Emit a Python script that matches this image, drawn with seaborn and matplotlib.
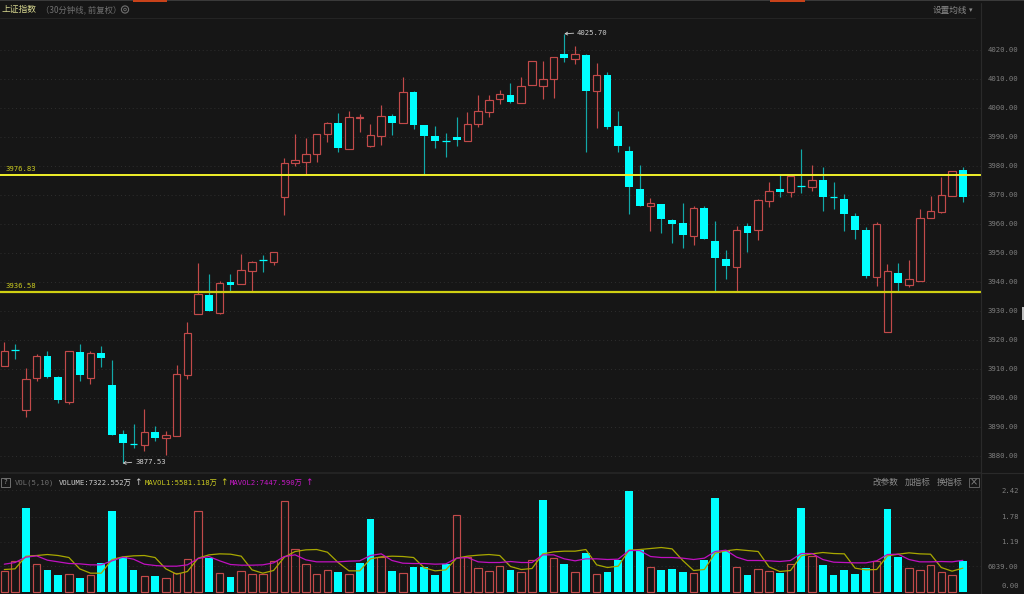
import numpy as np
import pandas as pd
import matplotlib
matplotlib.use("Agg")
import matplotlib.pyplot as plt
from matplotlib.patches import Rectangle
import seaborn as sns

# ---- candle data (prices) ----
body_top = [3916.2,0,3906.4,3914.4,3914.6,3907.2,3916.1,3915.9,3915.5,3915.5,3904.4,3887.5,0,3888.2,3888.3,3887.1,3908.2,3922.3,3935.7,3935.4,3939.6,3940.0,3944.0,3947.0,0,3950.3,
 3980.9,3981.9,3984.0,3991.2,3994.7,3994.7,3997.0,3996.9,3990.6,3997.1,3997.1,4005.4,4005.5,3994.2,3990.3,0,3990.1,3994.5,3998.8,4002.9,4004.7,4004.4,4007.7,4016.2,4010.1,4017.5,4018.5,4018.6,4018.3,4011.3,4011.4,
 3993.8,3985.0,3971.9,3967.4,3966.8,3961.4,3960.2,3965.4,3965.5,3954.1,3947.9,3958.1,3959.2,3968.2,3971.3,3971.9,3976.4,0,3975.3,
 3975.3,0,3968.6,3962.6,3957.9,3960.1,3943.7,3943.1,3940.9,3962.1,3964.4,3969.9,3978.2,3978.7]
body_bot = [3911.1,0,3896.0,3907.0,3907.3,3899.2,3898.5,3908.0,3907.0,3913.9,3887.1,3884.4,0,3883.9,3886.3,3886.1,3886.9,3907.8,3929.1,3929.9,3929.4,3939.0,3939.4,3943.9,0,3947.0,
 3969.2,3980.9,3981.5,3984.3,3991.1,3986.1,3985.9,3996.5,3986.8,3990.5,3994.9,3994.9,3994.2,3990.2,3988.5,0,3988.9,3988.5,3994.4,3998.7,4003.2,4002.2,4001.7,4008.0,4007.5,4010.0,4017.2,4017.0,4006.0,4005.8,3993.6,
 3987.0,3972.6,3966.3,3966.1,3961.7,3960.0,3956.1,3955.9,3954.8,3948.3,3945.6,3945.2,3956.8,3957.9,3967.8,3970.9,3971.2,0,3972.9,
 3969.3,0,3963.4,3957.8,3941.9,3941.7,3922.6,3939.8,3939.1,3940.4,3962.2,3964.2,3969.5,3969.2]
doji = {1:3916.5, 12:3884.0, 24:3947.5, 41:3988.5, 74:3973.1, 77:3969.3}
high = [3919.4,3918.6,3910.3,3915.2,3916.3,3907.6,3916.1,3918.7,3916.2,3917.8,3913.1,3888.9,3891.0,3896.1,3890.5,3888.5,3911.3,3926.3,3946.4,3942.9,3940.5,3942.8,3949.6,3947.1,3949.3,3950.5,
 3982.6,3990.9,3989.6,3991.2,3995.3,3998.3,3999.0,3997.9,3994.6,4001.0,3997.8,4010.7,4005.8,3994.2,3993.8,3991.4,3996.9,3998.5,4004.4,4004.5,4006.2,4008.5,4010.8,4016.2,4016.2,4017.7,4025.6,4021.4,4018.5,4015.4,4012.4,
 3999.0,3986.9,3980.2,3969.0,3967.0,3961.7,3967.2,3966.3,3966.3,3960.9,3951.2,3959.4,3960.3,3968.7,3974.6,3977.2,3976.6,3985.9,3980.3,
 3979.7,3974.6,3970.2,3963.7,3958.8,3960.6,3946.1,3946.5,3947.6,3965.2,3969.8,3976.1,3978.4,3979.7]
low = [3911.1,3913.4,3893.3,3906.0,3906.8,3898.2,3898.0,3905.9,3905.0,3910.7,3887.1,3877.53,3882.6,3881.8,3885.3,3880.5,3886.9,3906.6,3929.1,3929.9,3929.1,3936.7,3939.4,3937.0,3943.6,3945.9,
 3963.1,3980.0,3976.9,3981.4,3988.3,3984.8,3985.9,3991.6,3986.5,3987.2,3990.7,3994.9,3992.6,3976.9,3986.2,3983.1,3987.0,3988.5,3993.3,3997.0,4001.4,4001.8,4001.7,4008.0,4003.1,4003.3,4015.99,4015.2,3984.9,3993.2,3992.6,
 3984.8,3963.3,3966.2,3957.7,3957.0,3953.3,3951.7,3952.9,3954.8,3937.0,3940.9,3937.0,3950.3,3954.5,3965.9,3969.2,3969.2,3970.7,3971.5,
 3964.6,3965.3,3957.7,3955.0,3941.5,3938.5,3922.6,3936.7,3938.3,3940.4,3962.2,3963.9,3969.5,3967.5]
up = [1,0,1,1,0,0,1,0,1,0,0,0,0,1,0,1,1,1,1,0,1,0,1,1,0,1,
      1,1,1,1,1,0,1,1,1,1,0,1,0,0,0,0,0,1,1,1,1,0,1,1,1,1,0,1,0,1,0,
      0,0,0,1,0,0,0,1,0,0,0,1,0,1,1,0,1,0,1,
      0,0,0,0,0,1,1,0,1,1,1,1,1,0]

# ---- volume data (unit: 万) ----
volume = [4942,7413,19925,6615,5101,3905,4224,3347,4065,6774,19287,8329,5101,3826,3746,3347,4463,7812,19287,8010,4543,3587,4942,4304,4224,7334,
 21679,10122,6615,4224,5260,4623,4304,6774,17295,8329,4941,4383,5818,5818,3905,6694,18251,8249,5698,4941,6057,5101,4782,7573,21830,8018,6535,4623,9327,4224,4622,7653,24069,9965,5897,5260,5499,
 4623,4384,7494,22318,9646,5977,4065,5499,4941,4463,6694,20004,8608,6455,3985,5101,4304,5579,7254,19765,8249,5579,5101,6455,4782,4065,7322.552]
vol_up = [1,1,0,1,0,0,1,0,1,0,0,0,0,1,0,1,1,1,1,0,1,0,1,1,1,1,
 1,1,1,1,1,0,1,0,0,1,0,1,0,0,0,0,1,1,1,1,1,0,1,1,0,1,0,1,0,1,0,0,0,0,1,0,0,
 0,1,0,0,0,1,0,1,1,0,1,0,1,0,0,0,0,0,1,0,0,1,1,1,1,1,0]
mavol1 = [5260,5419,8448,8608,8847,8608,8130,5419,4383,4383,7653,8289,8528,8608,8130,5419,4144,4782,7972,8767,9006,8927,8448,5180,4383,5021,8209,9564,9963,10043,9404,6934,
 4942,4942,7812,8289,8448,8369,8130,5658,4942,5180,7972,8448,8687,8847,8608,5977,5260,5499,9006,9485,9646,9646,10043,6376,5738,6057,9883,10043,10282,10521,10202,
 7414,5021,5260,9167,9724,10043,9804,9564,5897,4782,5021,8528,9007,9326,9087,9007,5579,5180,5260,8528,8927,9246,9007,8927,5738,4862,5581.118]
mavol2 = [6535,6934,8209,8528,7494,7095,6695,6615,6376,6376,7334,8209,7733,6535,6216,6057,6057,6376,7892,8369,7334,6455,6296,6296,6376,6854,8369,8767,7573,7095,7095,7095,
 7254,7334,8608,9007,7414,6774,6694,6694,6535,6615,7972,8130,7095,6934,6934,7174,6934,6934,8767,8767,7812,7334,7812,7812,7653,7733,9804,9804,8369,8130,8130,
 7972,7653,7972,9565,9883,8209,7414,7414,7334,7174,7414,9087,9087,7653,7015,6934,6854,6854,7334,8847,8927,7653,7095,7095,7174,7095,7447.590]

price_ticks = [3880,3890,3900,3910,3920,3930,3940,3950,3960,3970,3980,3990,4000,4010,4020]
vol_grid = [6039, 11900, 17800, 24200]
vol_labels = ["2.42", "1.78", "1.19", "6039.00", "0.00"]
level_values = [3976.83, 3936.58]
level_labels = ["3976.83", "3936.58"]

BG = "#161616"; RED = "#c24a4a"; CYAN = "#00ffff"; GREY = "#7e7e7e"
sns.set_theme(style="dark")
plt.rcParams['font.family'] = ['Noto Sans CJK SC', 'DejaVu Sans']
W, H = 1024, 594
MONO = ['DejaVu Sans Mono', 'Noto Sans CJK SC']
FS = 5.2

fig = plt.figure(figsize=(W/100, H/100), dpi=100, facecolor=BG)
def axpx(l, t, r, b):
    return fig.add_axes([l/W, 1-b/H, (r-l)/W, (b-t)/H], facecolor=BG)

idx = np.arange(len(high))
X0, STEP = 4.3, 10.77
xlim = (-X0/STEP, (981-X0)/STEP)

# ---- price panel ----
ax = axpx(0, 18, 981, 472)
ax.set_xlim(xlim)
ax.set_ylim(3990-(472-137)/2.9, 3990+(137-18)/2.9)
for p in price_ticks:
    ax.axhline(p, color="#2e2e2e", lw=0.7, ls=(0, (1, 3)), zorder=1)
for i in idx:
    c = RED if up[i] else CYAN
    ax.vlines(i, low[i], high[i], color=RED if up[i] else "#12a8a8", lw=0.85, zorder=2)
    if i in doji:
        ax.hlines(doji[i], i-0.36, i+0.36, color=c, lw=0.9, zorder=3)
    elif up[i]:
        ax.add_patch(Rectangle((i-0.35, body_bot[i]), 0.7, body_top[i]-body_bot[i], fc=BG, ec=RED, lw=0.85, zorder=3))
    else:
        ax.add_patch(Rectangle((i-0.36, body_bot[i]), 0.72, body_top[i]-body_bot[i], fc=CYAN, ec="none", zorder=3))
ax.axhline(level_values[0], color="#f0f02a", lw=1.4, zorder=4)
ax.axhline(level_values[1], color="#d0d012", lw=1.6, zorder=4)
for lv, txt in zip(level_values, level_labels):
    ax.annotate(txt, xy=(5/981, lv), xycoords=("axes fraction", "data"), xytext=(0, 3), textcoords="offset pixels",
                color="#c8c820", fontsize=FS, family=MONO, va="bottom", ha="left", zorder=5)
arrow = dict(arrowstyle="->,head_width=0.2,head_length=0.35", color="#d0d0d0", lw=0.6, shrinkA=0, shrinkB=0, relpos=(0, 0.5))
ax.annotate("4025.70", xy=(52, 4025.6), xytext=(577, H-33), textcoords="figure pixels", color="#d0d0d0",
            fontsize=FS, family=MONO, va="center", ha="left", arrowprops=arrow)
ax.annotate("3877.53", xy=(11, 3877.53), xytext=(135, H-462), textcoords="figure pixels", color="#d0d0d0",
            fontsize=FS, family=MONO, va="center", ha="left", arrowprops=arrow)
ax.set_xticks([]); ax.set_yticks([])
for s in ax.spines.values(): s.set_visible(False)

# ---- volume panel ----
PXV = 239.2
av = axpx(0, 474, 981, 594)
vdf = pd.DataFrame({"i": idx, "vol": volume, "up": vol_up, "ma1": mavol1, "ma2": mavol2})
sns.barplot(data=vdf[vdf.up == 0], x="i", y="vol", native_scale=True, width=0.72, color=CYAN,
            saturation=1, linewidth=0, ax=av, zorder=2)
sns.barplot(data=vdf[vdf.up == 1], x="i", y="vol", native_scale=True, width=0.7, color=RED,
            saturation=1, fill=False, linewidth=0.85, ax=av, zorder=3)
sns.lineplot(data=vdf, x="i", y="ma1", color="#a8a800", lw=0.9, ax=av, zorder=4, errorbar=None)
sns.lineplot(data=vdf, x="i", y="ma2", color="#c010c0", lw=0.9, ax=av, zorder=5, errorbar=None)
av.set_xlim(xlim)
av.set_ylim(-2.5*PXV, (591.5-474)*PXV)
for v in vol_grid:
    av.axhline(v, color="#2c2c2c", lw=0.7, ls=(0, (1, 3)), zorder=1)
av.set_xticks([]); av.set_yticks([]); av.set_xlabel(""); av.set_ylabel("")
for s in av.spines.values(): s.set_visible(False)

# ---- chrome, drawn in pixel coordinates ----
fg = fig.add_axes([0, 0, 1, 1], facecolor="none", zorder=10)
fg.set_xlim(0, W); fg.set_ylim(H, 0); fg.axis("off")
fg.add_patch(Rectangle((0, 0), 1024, 1.2, fc="#3a3a3a", ec="none"))
fg.plot([0, 975], [17.5, 17.5], color="#242424", lw=0.8)
fg.plot([0, 981], [473, 473], color="#262626", lw=1.2)
fg.plot([980.5, 980.5], [3, 594], color="#2a2a2a", lw=0.8)
fg.plot([981, 1024], [473, 473], color="#2a2a2a", lw=0.8)
fg.add_patch(Rectangle((133, 0), 34, 1.6, fc="#c8421a", ec="none"))
fg.add_patch(Rectangle((770, 0), 35, 1.6, fc="#c8421a", ec="none"))
fg.add_patch(Rectangle((1022, 307), 2, 13, fc="#bdbdbd", ec="none"))
fg.text(2, 9.5, "上证指数", color="#d8d890", fontsize=6.3, va="center")
fg.text(41, 9.5, "（30分钟线, 前复权）", color="#707070", fontsize=6.0, va="center")
fg.add_patch(plt.Circle((125, 9.5), 3.6, fc="none", ec="#707070", lw=0.8))
fg.add_patch(plt.Circle((125, 9.5), 1.3, fc="none", ec="#707070", lw=0.6))
fg.text(933, 10, "设置均线", color="#8a8a8a", fontsize=6.2, va="center")
fg.text(969, 10, "▾", color="#8a8a8a", fontsize=5, va="center", family="DejaVu Sans")
for p in price_ticks:
    y = 137 + (3990 - p) * 2.9
    fg.text(988, y, f"{p:.2f}", color=GREY, fontsize=FS, family=MONO, va="center")
# volume header
fg.add_patch(Rectangle((1, 478), 8.5, 8.5, fc="none", ec="#707070", lw=0.7))
fg.text(5.2, 482.5, "?", color="#909090", fontsize=5, ha="center", va="center", family="DejaVu Sans")
fg.text(15, 482.5, "VOL(5,10)", color="#707070", fontsize=FS, family=MONO, va="center")
fg.text(59, 482.5, "VOLUME:7322.552万", color="#d0d0d0", fontsize=FS, family=MONO, va="center")
fg.text(138, 482.5, "↑", color="#d0d0d0", fontsize=6.5, ha="center", va="center", family="DejaVu Sans")
fg.text(145, 482.5, "MAVOL1:5581.118万", color="#c8c820", fontsize=FS, family=MONO, va="center")
fg.text(224, 482.5, "↑", color="#c8c820", fontsize=6.5, ha="center", va="center", family="DejaVu Sans")
fg.text(230, 482.5, "MAVOL2:7447.590万", color="#c818c8", fontsize=FS, family=MONO, va="center")
fg.text(309, 482.5, "↑", color="#c818c8", fontsize=6.5, ha="center", va="center", family="DejaVu Sans")
fg.text(873, 482.5, "改参数", color="#8a8a8a", fontsize=6.2, va="center")
fg.text(905, 482.5, "加指标", color="#8a8a8a", fontsize=6.2, va="center")
fg.text(937, 482.5, "换指标", color="#8a8a8a", fontsize=6.2, va="center")
fg.add_patch(Rectangle((969, 478), 10, 9, fc="none", ec="#606060", lw=0.7))
fg.text(974, 482.5, "×", color="#808080", fontsize=7, ha="center", va="center", family="DejaVu Sans")
for lab, y, x in zip(vol_labels, [491, 517, 542, 567, 586], [1001, 1001, 1001, 988, 1001]):
    fg.text(x, y, lab, color=GREY, fontsize=FS, family=MONO, va="center")

fig.savefig("out.png", dpi=100, facecolor=BG)
